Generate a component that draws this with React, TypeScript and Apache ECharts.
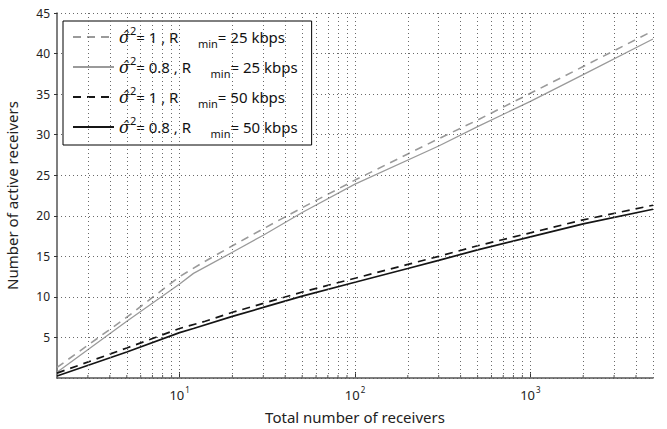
import React, { useEffect, useRef } from "react";
import * as echarts from "echarts";

// ---- data ----
const xGrayDashed = [2, 5, 10, 14, 20, 30, 50, 100, 300, 500, 1000, 2000, 5000];
const yGrayDashed = [1.3, 7.5, 12.5, 14.4, 16.3, 18.4, 21.0, 24.4, 29.5, 31.8, 35.1, 38.4, 42.8];

const xGraySolid = [2, 5, 10, 12, 20, 30, 50, 100, 300, 500, 1000, 2000, 5000];
const yGraySolid = [0.7, 7.0, 11.6, 12.9, 15.5, 17.6, 20.4, 23.9, 28.6, 31.0, 34.1, 37.4, 41.8];

const xBlackDashed = [2, 5, 10, 14, 20, 30, 50, 100, 200, 300, 500, 1000, 2000, 5000];
const yBlackDashed = [0.6, 3.7, 6.1, 7.0, 8.1, 9.2, 10.6, 12.3, 14.0, 15.0, 16.3, 17.9, 19.5, 21.3];

const xBlackSolid = [2, 5, 10, 12, 20, 30, 50, 100, 200, 300, 500, 1000, 2000, 5000];
const yBlackSolid = [0.25, 3.2, 5.6, 6.1, 7.6, 8.7, 10.1, 11.8, 13.5, 14.5, 15.8, 17.4, 19.0, 20.8];

const seriesNames = ["g1", "g08", "b1", "b08"];
const sigmaValues = ["1", "0.8", "1", "0.8"];
const rateValues = ["25", "25", "50", "50"];

// log-axis grid positions (minor + major)
const gridX = [
  3, 4, 5, 6, 7, 8, 9, 10,
  20, 30, 40, 50, 60, 70, 80, 90, 100,
  200, 300, 400, 500, 600, 700, 800, 900, 1000,
  2000, 3000, 4000, 5000,
];
const minorTickX = [
  3, 4, 5, 6, 7, 8, 9,
  20, 30, 40, 50, 60, 70, 80, 90,
  200, 300, 400, 500, 600, 700, 800, 900,
  2000, 3000, 4000,
];

const FONT = "Noto Sans";
const GRAY = "#9a9a9a";
const BLACK = "#151515";
const GRID = "#6a6a6a";

function pairs(xs: number[], ys: number[]) {
  return xs.map((x, i) => [x, ys[i]]);
}

export default function App() {
  const ref = useRef<HTMLDivElement>(null);

  useEffect(() => {
    const chart = echarts.init(ref.current!, null, { renderer: "svg" });

    const legendText: Record<string, string> = {};
    seriesNames.forEach((n, i) => {
      legendText[n] =
        `{sig|σ̂}{sup|2}{t|= ${sigmaValues[i]} , R     }{sub|min}{t|= ${rateValues[i]} kbps}`;
    });

    const lineSeries = (
      name: string,
      data: number[][],
      color: string,
      dashed: boolean,
      width: number
    ) => ({
      name,
      type: "line",
      data,
      showSymbol: false,
      symbol: "none",
      smooth: false,
      z: 3,
      lineStyle: {
        color,
        width,
        type: dashed ? [8, 6] : "solid",
      },
      itemStyle: { color },
    });

    chart.setOption({
      animation: false,
      backgroundColor: "#ffffff",
      textStyle: { fontFamily: FONT },
      grid: {
        left: 57,
        right: 14,
        top: 13,
        bottom: 51,
        containLabel: false,
        outerBoundsMode: "none",
      },
      xAxis: {
        type: "log",
        logBase: 10,
        min: 2,
        max: 5000,
        name: "Total number of receivers",
        nameLocation: "middle",
        nameGap: 31,
        nameTextStyle: { fontFamily: FONT, fontSize: 15, color: "#222" },
        axisLine: { show: true, lineStyle: { color: "#555", width: 1.5 } },
        axisTick: { show: true, inside: true, length: 6, lineStyle: { color: "#333" } },
        splitLine: { show: false },
        minorTick: { show: false },
        axisLabel: {
          color: "#222",
          margin: 7,
          showMinLabel: false,
          showMaxLabel: false,
          fontFamily: FONT,
          fontSize: 13,
          formatter: (v: number) => {
            const e = Math.log10(v);
            if (Math.abs(e - Math.round(e)) > 1e-6) return "";
            return `{b|10}{sup|${Math.round(e)}}`;
          },
          rich: {
            b: { fontFamily: FONT, fontSize: 13, color: "#222", lineHeight: 16, verticalAlign: "bottom" },
            sup: { fontFamily: FONT, fontSize: 8, color: "#222", lineHeight: 16, verticalAlign: "top", padding: [0, 0, 0, 1] },
          },
        },
      },
      yAxis: {
        type: "value",
        min: 0,
        max: 45,
        interval: 5,
        name: "Number of active receivers",
        nameLocation: "middle",
        nameGap: 38,
        nameTextStyle: { fontFamily: FONT, fontSize: 15, color: "#222" },
        axisLine: { show: true, lineStyle: { color: "#555", width: 1.5 } },
        axisTick: { show: true, inside: false, length: 3, lineStyle: { color: "#333" } },
        splitLine: { show: true, lineStyle: { color: GRID, width: 1, type: [1, 3] } },
        axisLabel: {
          color: "#222",
          margin: 7,
          fontFamily: FONT,
          fontSize: 12,
          showMinLabel: false,
          formatter: (v: number) => (v === 0 ? "" : String(v)),
        },
      },
      legend: {
        data: seriesNames,
        orient: "vertical",
        left: 63,
        top: 21,
        padding: [4, 14, 6, 9],
        itemGap: 6,
        itemWidth: 41,
        itemHeight: 14,
        backgroundColor: "#ffffff",
        borderColor: "#000000",
        borderWidth: 1,
        borderRadius: 0,
        selectedMode: false,
        itemStyle: { color: "rgba(0,0,0,0)", borderWidth: 0, opacity: 0 },
        formatter: (name: string) => legendText[name] || name,
        textStyle: {
          fontFamily: FONT,
          fontSize: 15,
          color: "#111",
          rich: {
            sig: { fontFamily: "DejaVu Serif", fontStyle: "italic", fontSize: 16, color: "#111", lineHeight: 24, verticalAlign: "middle" },
            sup: { fontFamily: FONT, fontSize: 11, color: "#111", lineHeight: 24, verticalAlign: "top" },
            t: { fontFamily: FONT, fontSize: 15, color: "#111", lineHeight: 24, verticalAlign: "middle" },
            sub: { fontFamily: FONT, fontSize: 11, color: "#111", lineHeight: 24, verticalAlign: "bottom" },
          },
        },
      },
      series: [
        {
          name: "grid-helper",
          type: "scatter",
          data: minorTickX.map((x) => [x, 0]),
          symbol: "rect",
          symbolSize: [1, 3],
          symbolOffset: [0, -1.5],
          itemStyle: { color: "#333" },
          silent: true,
          clip: false,
          z: 1,
          markLine: {
            silent: true,
            symbol: ["none", "none"],
            label: { show: false },
            lineStyle: { color: GRID, width: 1, type: [1, 3] },
            data: gridX.map((x) => ({ xAxis: x })),
          },
        },
        lineSeries("g1", pairs(xGrayDashed, yGrayDashed), GRAY, true, 1.6),
        lineSeries("g08", pairs(xGraySolid, yGraySolid), GRAY, false, 1.3),
        lineSeries("b1", pairs(xBlackDashed, yBlackDashed), BLACK, true, 1.7),
        lineSeries("b08", pairs(xBlackSolid, yBlackSolid), BLACK, false, 1.7),
      ],
    });

    return () => chart.dispose();
  }, []);

  return (
    <div
      ref={ref}
      style={{ position: "fixed", left: 0, top: 0, width: 667, height: 429 }}
    />
  );
}
